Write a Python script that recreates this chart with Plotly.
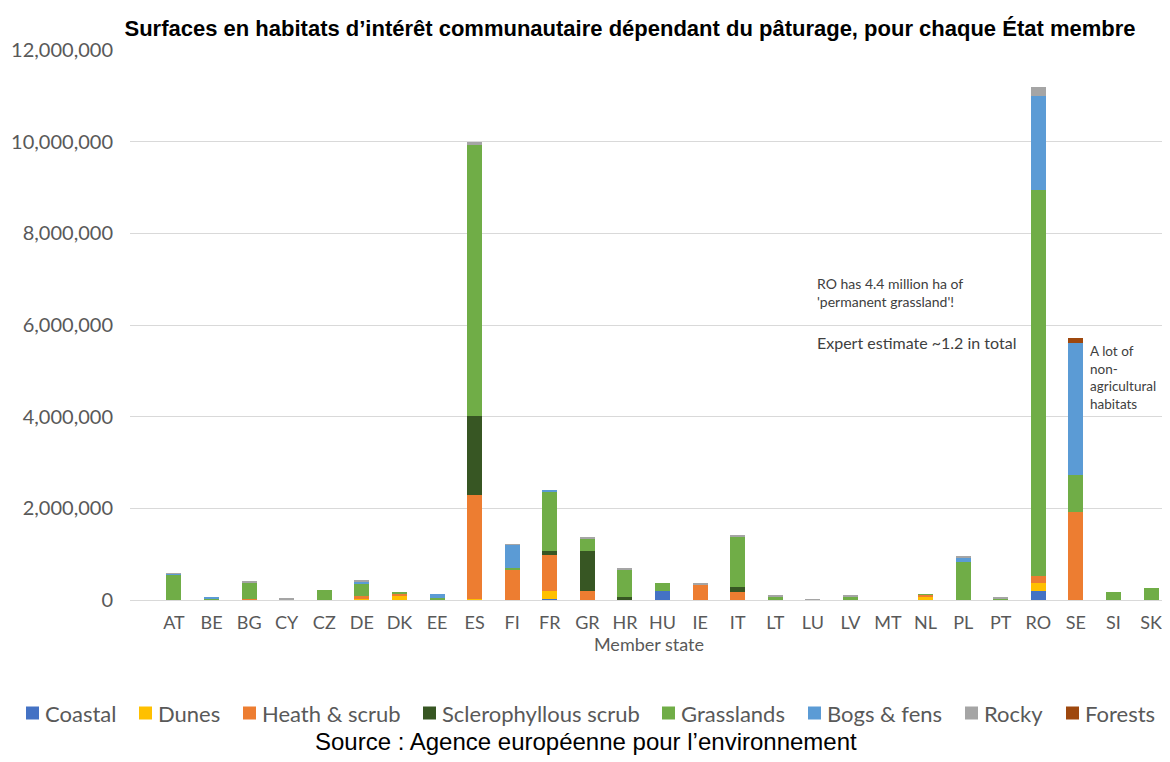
import plotly.graph_objects as go

# Member states
states = ["AT", "BE", "BG", "CY", "CZ", "DE", "DK", "EE", "ES", "FI", "FR", "GR", "HR", "HU",
          "IE", "IT", "LT", "LU", "LV", "MT", "NL", "PL", "PT", "RO", "SE", "SI", "SK"]

# surfaces (ha) per habitat type
coastal = [0, 0, 0, 0, 0, 5000, 10000, 10000, 10000, 0, 20000, 0, 0, 200000,
           0, 10000, 0, 0, 0, 0, 10000, 0, 0, 200000, 0, 0, 0]
dunes = [0, 0, 0, 0, 0, 10000, 90000, 0, 10000, 0, 180000, 0, 0, 0,
         0, 0, 0, 0, 0, 0, 50000, 0, 5000, 180000, 0, 0, 0]
heath = [10000, 10000, 20000, 10000, 0, 80000, 30000, 0, 2270000, 670000, 780000, 200000, 0, 0,
         330000, 160000, 0, 0, 0, 0, 50000, 0, 10000, 150000, 1910000, 0, 0]
sclero = [0, 0, 0, 0, 0, 0, 0, 0, 1730000, 0, 90000, 870000, 60000, 0,
          0, 120000, 0, 0, 0, 0, 0, 0, 0, 0, 0, 0, 0]
grass = [540000, 20000, 370000, 10000, 210000, 270000, 50000, 40000, 5900000, 20000, 1280000, 270000, 610000, 180000,
         0, 1090000, 80000, 10000, 80000, 0, 10000, 840000, 20000, 8410000, 820000, 180000, 260000]
bogs = [20000, 30000, 0, 0, 0, 40000, 0, 90000, 0, 520000, 50000, 0, 0, 0,
        0, 0, 0, 0, 0, 0, 0, 90000, 0, 2060000, 2880000, 0, 0]
rocky = [10000, 0, 10000, 10000, 0, 10000, 0, 0, 80000, 10000, 0, 20000, 10000, 0,
         30000, 20000, 10000, 10000, 10000, 0, 0, 10000, 10000, 190000, 0, 0, 0]
forests = [0, 0, 0, 0, 0, 0, 0, 0, 0, 0, 0, 0, 0, 0,
           0, 0, 0, 0, 0, 0, 0, 0, 0, 0, 100000, 0, 0]

series = [
    ("Coastal", coastal, "#4472C4"),
    ("Dunes", dunes, "#FFC000"),
    ("Heath & scrub", heath, "#ED7D31"),
    ("Sclerophyllous scrub", sclero, "#375623"),
    ("Grasslands", grass, "#70AD47"),
    ("Bogs & fens", bogs, "#5B9BD5"),
    ("Rocky", rocky, "#A5A5A5"),
    ("Forests", forests, "#9E480E"),
]

# page has an 8px body margin, so the figure is drawn from (8, 8)
W, H = 1162, 754
L, T, R, B = 122, 42, 2, 162
pw = W - L - R
ph = H - T - B


def px(x):  # screen x -> paper
    return (x - 8 - L) / pw


def py(y):  # screen y -> paper
    return (H - B + 8 - y) / ph


fig = go.Figure()
for name, vals, col in series:
    fig.add_trace(go.Bar(x=states, y=vals, name=name, showlegend=False,
                         marker=dict(color=col, line=dict(width=0)), width=0.4))

fig.update_layout(
    barmode="stack",
    width=W, height=H,
    paper_bgcolor="white", plot_bgcolor="white",
    font=dict(family="Lato", color="#595959"),
    margin=dict(l=L, r=R, t=T, b=B),
    title=dict(
        text="<b>Surfaces en habitats d’intérêt communautaire dépendant du pâturage, pour chaque État membre</b>",
        x=(630 - 8) / W, xanchor="center", y=1 - (28 - 8) / H, yanchor="middle",
        font=dict(family="Arial", size=22, color="black")),
    xaxis=dict(
        range=[-1.17, 26.45], showgrid=False, showline=True, linecolor="#d9d9d9",
        ticks="", tickfont=dict(size=18), automargin=False, ticklabelstandoff=6,
        title=dict(text="Member state", font=dict(size=18), standoff=2)),
    yaxis=dict(
        range=[0, 12000000], dtick=2000000, tickformat=",", gridcolor="#d9d9d9",
        zeroline=False, tickfont=dict(size=20), ticklabelstandoff=16, automargin=False),
    bargap=0.6,
)

# legend drawn as a row of coloured squares + labels, as in the source image
legend_x = [26, 139, 243, 423, 662, 808, 965, 1066]
sq = 13
for (name, vals, col), lx in zip(series, legend_x):
    fig.add_shape(type="rect", xref="paper", yref="paper",
                  x0=px(lx), x1=px(lx + sq), y0=py(713 + sq / 2), y1=py(713 - sq / 2),
                  fillcolor=col, line=dict(width=0))
    fig.add_annotation(text=name, xref="paper", yref="paper",
                       x=px(lx + sq + 4), y=py(713), xanchor="left", yanchor="middle", showarrow=False,
                       font=dict(size=22, color="#595959"))

fig.add_annotation(text="RO has 4.4 million ha of<br>'permanent grassland'!", xref="paper", yref="paper",
                   x=px(815), y=py(273), xanchor="left", yanchor="top", align="left",
                   showarrow=False, font=dict(size=14, color="#404040"))
fig.add_annotation(text="Expert estimate ~1.2 in total", xref="paper", yref="paper",
                   x=px(815), y=py(331), xanchor="left", yanchor="top", align="left",
                   showarrow=False, font=dict(size=16, color="#404040"))
fig.add_annotation(text="A lot of<br>non-<br>agricultural<br>habitats", xref="paper", yref="paper",
                   x=px(1088), y=py(341), xanchor="left", yanchor="top", align="left",
                   showarrow=False, font=dict(size=13.5, color="#404040"))
fig.add_annotation(text="Source : Agence européenne pour l’environnement", xref="paper", yref="paper",
                   x=px(586), y=py(741), xanchor="center", yanchor="middle",
                   showarrow=False, font=dict(family="Arial", size=24, color="black"))

fig.write_html("out.html")
